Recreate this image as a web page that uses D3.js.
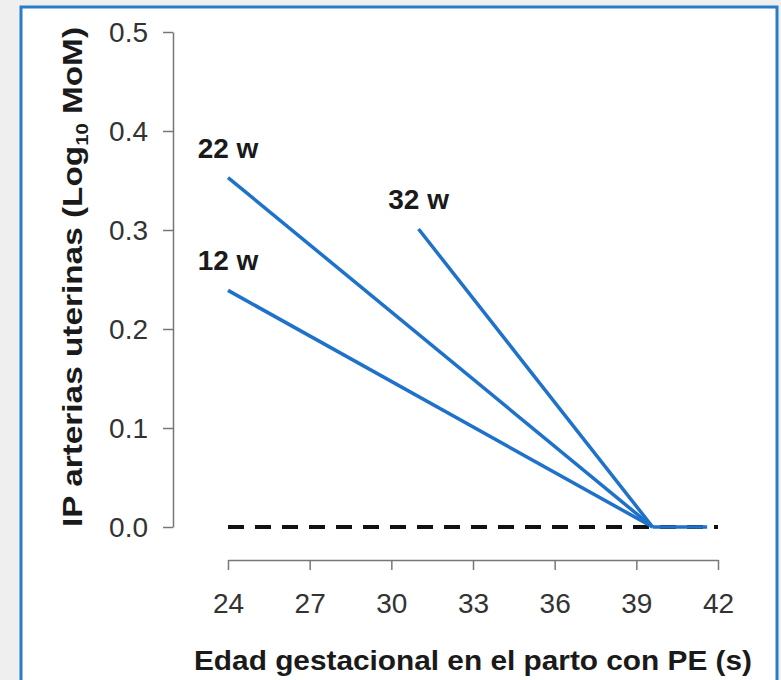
<!DOCTYPE html>
<html>
  <head>
    <meta charset="utf-8">
    <title>IP arterias uterinas</title>
    <style>
      body { margin: 0; background: #efefef; }
      svg { display: block; }
    </style>
  </head>
  <body>
    <div id="chart"></div>
  </body>
  <script src="https://d3js.org/d3.v7.min.js"></script>
  <script>

    // data
    let series = ["12 w", "22 w", "32 w"];
    let startWeek = [24, 24, 31];
    let startValue = [0.239, 0.353, 0.301];
    let endWeek = 39.6;
    let flatEnd = 41.6;
    let xTicks = [24, 27, 30, 33, 36, 39, 42];
    let yTicks = [0, 0.1, 0.2, 0.3, 0.4, 0.5];

    let W = 781, H = 680;
    let font = "'Liberation Sans', Arial, sans-serif";
    let narrow = "'Liberation Sans Narrow', 'Arial Narrow', sans-serif";
    let blue = "#1f72c9";

    let xScale = d3.scaleLinear().domain([24, 42]).range([228, 718]);
    let yScale = d3.scaleLinear().domain([0, 0.5]).range([527, 32]);

    let svg = d3.select("#chart").append("svg")
      .attr("width", W)
      .attr("height", H);

    // white panel with blue frame
    svg.append("rect")
      .attr("x", 21).attr("y", 7)
      .attr("width", 756).attr("height", 690)
      .attr("fill", "#fff")
      .attr("stroke", "#2b7cc7")
      .attr("stroke-width", 3);

    // y axis
    let yAxis = svg.append("g")
      .attr("transform", "translate(173,0)")
      .call(d3.axisLeft(yScale).tickValues(yTicks).tickFormat(d3.format(".1f"))
        .tickSize(10).tickSizeOuter(0).tickPadding(15));

    // x axis
    let xAxis = svg.append("g")
      .attr("transform", "translate(0,560)")
      .call(d3.axisBottom(xScale).tickValues(xTicks)
        .tickSize(10).tickSizeOuter(0).tickPadding(23));

    [yAxis, xAxis].forEach(function(a) {
      a.select(".domain").attr("stroke", "#777").attr("stroke-width", 1.5);
      a.selectAll(".tick line").attr("stroke", "#777").attr("stroke-width", 1.5);
      a.selectAll(".tick text")
        .attr("fill", "#333")
        .style("font-family", narrow)
        .style("font-size", "28px");
    });
    yAxis.selectAll(".tick text").attr("dy", "0.35em");

    // dashed reference line at 0
    svg.append("line")
      .attr("x1", xScale(24)).attr("x2", xScale(42))
      .attr("y1", yScale(0)).attr("y2", yScale(0))
      .attr("stroke", "#111")
      .attr("stroke-width", 4)
      .attr("stroke-dasharray", "16 11");

    // blue lines
    series.forEach(function(s, i) {
      svg.append("line")
        .attr("x1", xScale(startWeek[i])).attr("y1", yScale(startValue[i]))
        .attr("x2", xScale(endWeek)).attr("y2", yScale(0))
        .attr("stroke", blue)
        .attr("stroke-width", 3.5);

      svg.append("text")
        .attr("x", xScale(startWeek[i]))
        .attr("y", yScale(startValue[i]) - 20)
        .attr("text-anchor", "middle")
        .style("font-family", font)
        .style("font-size", "28px")
        .style("font-weight", "bold")
        .attr("fill", "#1a1a1a")
        .text(s);
    });

    svg.append("line")
      .attr("x1", xScale(endWeek)).attr("x2", xScale(flatEnd))
      .attr("y1", yScale(0)).attr("y2", yScale(0))
      .attr("stroke", blue)
      .attr("stroke-width", 3.5);

    // axis titles
    svg.append("text")
      .attr("x", 473).attr("y", 670)
      .attr("text-anchor", "middle")
      .attr("textLength", 558)
      .attr("lengthAdjust", "spacingAndGlyphs")
      .style("font-family", font)
      .style("font-size", "28px")
      .style("font-weight", "bold")
      .attr("fill", "#1a1a1a")
      .text("Edad gestacional en el parto con PE (s)");

    let yTitle = svg.append("text")
      .attr("transform", "translate(82,277) rotate(-90)")
      .attr("text-anchor", "middle")
      .attr("textLength", 500)
      .attr("lengthAdjust", "spacingAndGlyphs")
      .style("font-family", font)
      .style("font-size", "28px")
      .style("font-weight", "bold")
      .attr("fill", "#1a1a1a");
    yTitle.append("tspan").text("IP arterias uterinas (Log");
    yTitle.append("tspan").attr("dy", 6).style("font-size", "17px").text("10");
    yTitle.append("tspan").attr("dy", -6).text(" MoM)");

  </script>
</html>
